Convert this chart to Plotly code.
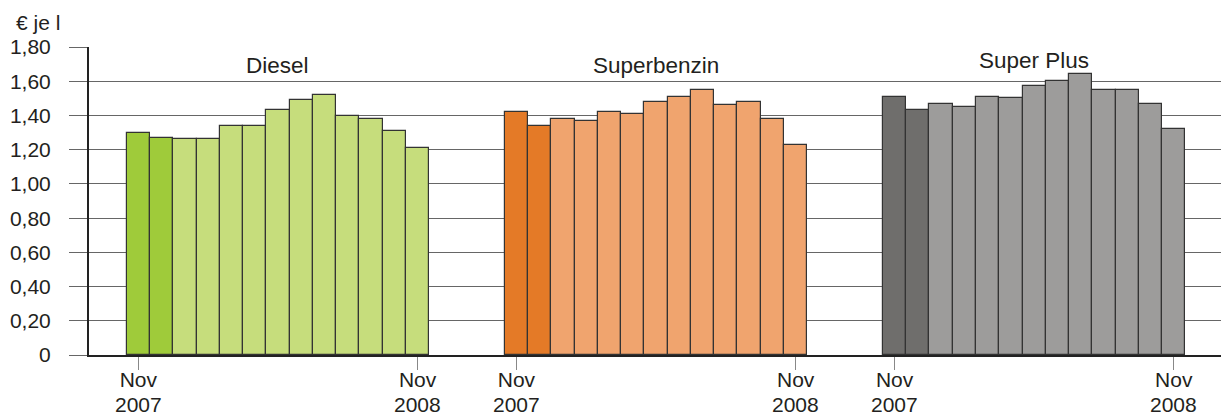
import plotly.graph_objects as go

# ---- data ----
months = ["Nov 2007", "Dez 2007", "Jan 2008", "Feb 2008", "Mär 2008", "Apr 2008", "Mai 2008",
          "Jun 2008", "Jul 2008", "Aug 2008", "Sep 2008", "Okt 2008", "Nov 2008"]
diesel = [1.30, 1.27, 1.26, 1.26, 1.34, 1.34, 1.43, 1.49, 1.52, 1.40, 1.38, 1.31, 1.21]
superbenzin = [1.42, 1.34, 1.38, 1.37, 1.42, 1.41, 1.48, 1.51, 1.55, 1.46, 1.48, 1.38, 1.23]
superplus = [1.51, 1.43, 1.47, 1.45, 1.51, 1.50, 1.57, 1.60, 1.64, 1.55, 1.55, 1.47, 1.32]
fuel_names = ["Diesel", "Superbenzin", "Super Plus"]
y_tick_vals = [0, 0.2, 0.4, 0.6, 0.8, 1.0, 1.2, 1.4, 1.6, 1.8]
y_tick_text = ["0", "0,20", "0,40", "0,60", "0,80", "1,00", "1,20", "1,40", "1,60", "1,80"]
x_tick_month = ["Nov", "Nov"]
x_tick_year = ["2007", "2008"]
unit_label = "€ je l"

# ---- styles ----
series = [diesel, superbenzin, superplus]
group_offsets = [0.0, 16.25, 32.5]
dark_colors = ["#9fcb3a", "#e47a27", "#6f6e6c"]
light_colors = ["#c6dd7c", "#f0a46e", "#9d9c9b"]
label_y = [1.69, 1.69, 1.72]
font_family = "Liberation Sans, Arial, sans-serif"
text_color = "#231f20"
tick_size = 21
label_size = 22.5

W, H = 1221, 418
ml, mr, mt, mb = 89, 0, 47, 63
pw, ph = W - ml - mr, H - mt - mb

fig = go.Figure()
tick_vals = []
tick_text = []
for g, vals in enumerate(series):
    xs = [group_offsets[g] + i for i in range(len(vals))]
    cols = [dark_colors[g] if i < 2 else light_colors[g] for i in range(len(vals))]
    fig.add_trace(go.Bar(
        x=xs, y=vals, width=1.0, customdata=months,
        marker=dict(color=cols, line=dict(color="#333333", width=1.2)),
        name=fuel_names[g], showlegend=False,
        hovertemplate="%{customdata}: %{y:.2f} €<extra>" + fuel_names[g] + "</extra>",
    ))
    ends = [xs[0], xs[-1]]
    tick_vals += ends
    tick_text += x_tick_month
    for xv, yr in zip(ends, x_tick_year):
        fig.add_annotation(x=xv, xref="x", y=-(404 - (H - mb)) / ph, yref="paper",
                           text=yr, showarrow=False, yanchor="middle",
                           font=dict(size=tick_size, color=text_color, family=font_family))
    fig.add_annotation(x=group_offsets[g] + 6, y=label_y[g], text=fuel_names[g],
                       showarrow=False, xref="x", yref="y",
                       font=dict(size=label_size, color=text_color, family=font_family))

fig.add_annotation(x=(14 - ml) / pw, y=1 + (mt - 23) / ph, xref="paper", yref="paper",
                   text=unit_label, showarrow=False, xanchor="left", yanchor="middle",
                   font=dict(size=tick_size, color=text_color, family=font_family))

fig.update_layout(
    width=W, height=H, autosize=False,
    margin=dict(l=ml, r=mr, t=mt, b=mb, pad=0),
    paper_bgcolor="white", plot_bgcolor="white",
    bargap=0, barmode="overlay",
    font=dict(family=font_family, size=tick_size, color=text_color),
    xaxis=dict(
        range=[-2.12, 46.53], tickmode="array", tickvals=tick_vals, ticktext=tick_text,
        ticks="outside", ticklen=13, tickcolor="#888888", tickwidth=1.2,
        showgrid=False, zeroline=False, showline=True, linecolor="#222222", linewidth=2,
        tickfont=dict(size=tick_size, color=text_color), ticklabelstandoff=-8, fixedrange=True,
    ),
    yaxis=dict(
        range=[0, 1.8005], tickmode="array", tickvals=y_tick_vals, ticktext=y_tick_text,
        ticks="outside", ticklen=18, tickcolor="#666666", tickwidth=1.2,
        showgrid=True, gridcolor="#666666", gridwidth=1.2,
        zeroline=False, showline=True, linecolor="#222222", linewidth=2,
        tickfont=dict(size=tick_size, color=text_color), ticklabelstandoff=14, fixedrange=True,
    ),
)

fig.write_html("out.html", config={"displayModeBar": False},
               post_script="document.body.style.margin='0';")
